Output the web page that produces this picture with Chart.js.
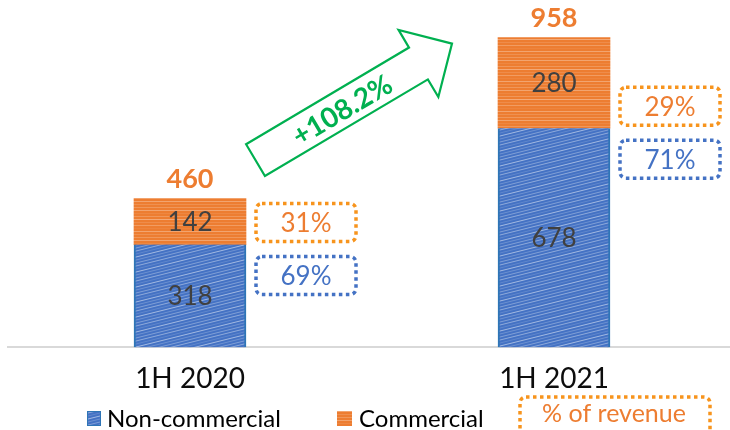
<!DOCTYPE html>
<html>
<head>
<meta charset="utf-8">
<script src="https://cdn.jsdelivr.net/npm/chart.js@4"></script>
<style>
    html, body { margin: 0; padding: 0; background: #fff; overflow: hidden; }
    #wrap { width: 740px; height: 430px; }
</style>
</head>
<body>
<div id="wrap"><canvas id="revenueChart"></canvas></div>
<script>
// DATA
const periods = ["1H 2020", "1H 2021"];
const nonCommercial = [318, 678];
const commercial = [142, 280];
const growthLabel = "+108.2%";
const legendLabels = ["Non-commercial", "Commercial", "% of revenue"];
const yMax = 1000;

const BLUE = "#4472C4";
const ORANGE = "#ED7D31";
const DOT_ORANGE = "#F7941D";
const GREEN = "#00B050";
const FONT = "Lato, 'Open Sans', sans-serif";

// scribbled texture fills
function makeBluePattern(ctx) {
    const c = document.createElement("canvas");
    c.width = 120; c.height = 60;
    const g = c.getContext("2d");
    g.fillStyle = BLUE;
    g.fillRect(0, 0, 120, 60);
    const alphas = [0.4, 0.15, 0.5, 0.22, 0.32];
    let k = 0;
    for (let y0 = -60; y0 <= 150; y0 += 3, k++) {
        g.strokeStyle = "rgba(255,255,255," + alphas[((k % 5) + 5) % 5] + ")";
        g.lineWidth = 1;
        g.beginPath();
        g.moveTo(0, y0);
        g.lineTo(120, y0 - 30);
        g.stroke();
    }
    return ctx.createPattern(c, "repeat");
}

function makeOrangePattern(ctx) {
    const c = document.createElement("canvas");
    c.width = 90; c.height = 30;
    const g = c.getContext("2d");
    g.fillStyle = ORANGE;
    g.fillRect(0, 0, 90, 30);
    const alphas = [0.3, 0.08, 0.2, 0.34, 0.12, 0.24, 0.06, 0.3, 0.15, 0.2];
    for (let i = 0; i < 10; i++) {
        g.strokeStyle = "rgba(255,255,255," + alphas[i] + ")";
        g.lineWidth = 1;
        g.beginPath();
        g.moveTo(0, i * 3 + 0.5);
        g.lineTo(90, i * 3 + 0.5);
        g.stroke();
    }
    return ctx.createPattern(c, "repeat");
}

function dottedBox(ctx, x, y, w, h, color) {
    ctx.save();
    ctx.strokeStyle = color;
    ctx.lineWidth = 3.5;
    ctx.setLineDash([3.5, 3.5]);
    ctx.beginPath();
    ctx.roundRect(x, y, w, h, 6);
    ctx.stroke();
    ctx.restore();
}

// labels, percentage boxes and growth arrow
const annotations = {
    id: "annotations",
    afterDatasetsDraw(chart) {
        const ctx = chart.ctx;
        const blueMeta = chart.getDatasetMeta(0);
        const orangeMeta = chart.getDatasetMeta(1);
        ctx.save();
        ctx.textAlign = "center";
        ctx.textBaseline = "middle";

        periods.forEach((p, i) => {
            const b = blueMeta.data[i];
            const o = orangeMeta.data[i];
            const total = nonCommercial[i] + commercial[i];

            ctx.fillStyle = "#404040";
            ctx.font = "26px " + FONT;
            ctx.fillText(nonCommercial[i], b.x, (b.y + b.base) / 2 + 1);
            ctx.fillText(commercial[i], o.x, (o.y + o.base) / 2 + 1);

            ctx.fillStyle = ORANGE;
            ctx.font = "bold 27px " + FONT;
            ctx.fillText(total, o.x, o.y - 19);

            // % of revenue boxes
            const bx = b.x + b.width / 2 + 10;
            const split = b.y;
            dottedBox(ctx, bx, split - 41, 100, 38, DOT_ORANGE);
            dottedBox(ctx, bx, split + 12, 100, 38, BLUE);
            ctx.font = "26px " + FONT;
            ctx.fillStyle = ORANGE;
            ctx.fillText(Math.round(commercial[i] / total * 100) + "%", bx + 50, split - 21);
            ctx.fillStyle = BLUE;
            ctx.fillText(Math.round(nonCommercial[i] / total * 100) + "%", bx + 50, split + 32);
        });

        // growth arrow from first bar towards second
        const o1 = orangeMeta.data[0];
        const o2 = orangeMeta.data[1];
        const sx = o1.x + o1.width / 2 + 9.5;
        const sy = o1.y - 38.5;
        const tx = o2.x - o2.width / 2 - 46;
        const ty = o2.y + 6;
        const len = Math.hypot(tx - sx, ty - sy);
        const ang = Math.atan2(ty - sy, tx - sx);
        const shaft = 18.5, head = 39, headLen = 39;
        ctx.translate(sx, sy);
        ctx.rotate(ang);
        ctx.strokeStyle = GREEN;
        ctx.lineWidth = 2.2;
        ctx.lineJoin = "miter";
        ctx.beginPath();
        ctx.moveTo(0, -shaft);
        ctx.lineTo(len - headLen, -shaft);
        ctx.lineTo(len - headLen, -head);
        ctx.lineTo(len, 0);
        ctx.lineTo(len - headLen, head);
        ctx.lineTo(len - headLen, shaft);
        ctx.lineTo(0, shaft);
        ctx.closePath();
        ctx.stroke();
        ctx.fillStyle = GREEN;
        ctx.font = "bold 28px " + FONT;
        ctx.fillText(growthLabel, 100, 2);
        ctx.restore();
    },
    afterDraw(chart) {
        const ctx = chart.ctx;
        ctx.save();
        ctx.textBaseline = "middle";
        ctx.textAlign = "left";
        ctx.font = "24px " + FONT;

        ctx.fillStyle = makeBluePattern(ctx);
        ctx.fillRect(87, 411, 14, 15);
        ctx.strokeStyle = "#2E75B6";
        ctx.lineWidth = 1;
        ctx.strokeRect(87.5, 411.5, 13, 14);
        ctx.fillStyle = "#000";
        ctx.fillText(legendLabels[0], 107, 419);

        ctx.fillStyle = makeOrangePattern(ctx);
        ctx.fillRect(337, 411, 15, 15);
        ctx.fillStyle = "#000";
        ctx.fillText(legendLabels[1], 359, 419);

        dottedBox(ctx, 520, 397, 190, 50, DOT_ORANGE);
        ctx.textAlign = "center";
        ctx.fillStyle = ORANGE;
        ctx.font = "25px " + FONT;
        ctx.fillText(legendLabels[2], 614, 414);
        ctx.restore();
    }
};

const canvas = document.getElementById("revenueChart");
const ctx = canvas.getContext("2d");

new Chart(ctx, {
    type: "bar",
    data: {
        labels: periods,
        datasets: [
            {
                label: legendLabels[0],
                data: nonCommercial,
                backgroundColor: makeBluePattern(ctx),
                borderColor: "#2E75B6",
                borderWidth: { left: 2, right: 2, top: 0, bottom: 0 },
                borderSkipped: false,
                barThickness: 112,
            },
            {
                label: legendLabels[1],
                data: commercial,
                backgroundColor: makeOrangePattern(ctx),
                borderWidth: 0,
                barThickness: 112,
            },
        ],
    },
    options: {
        responsive: true,
        maintainAspectRatio: false,
        animation: false,
        layout: {
            padding: { left: 8, right: 4, top: 24, bottom: 27 },
        },
        plugins: {
            legend: { display: false },
            tooltip: { enabled: false },
        },
        scales: {
            x: {
                stacked: true,
                grid: { display: false },
                border: { color: "#D9D9D9", width: 2 },
                ticks: {
                    color: "#0D0D0D",
                    padding: 7,
                    font: { family: FONT, size: 28 },
                },
            },
            y: {
                stacked: true,
                display: false,
                min: 0,
                max: yMax,
            },
        },
    },
    plugins: [annotations],
});
</script>
</body>
</html>
